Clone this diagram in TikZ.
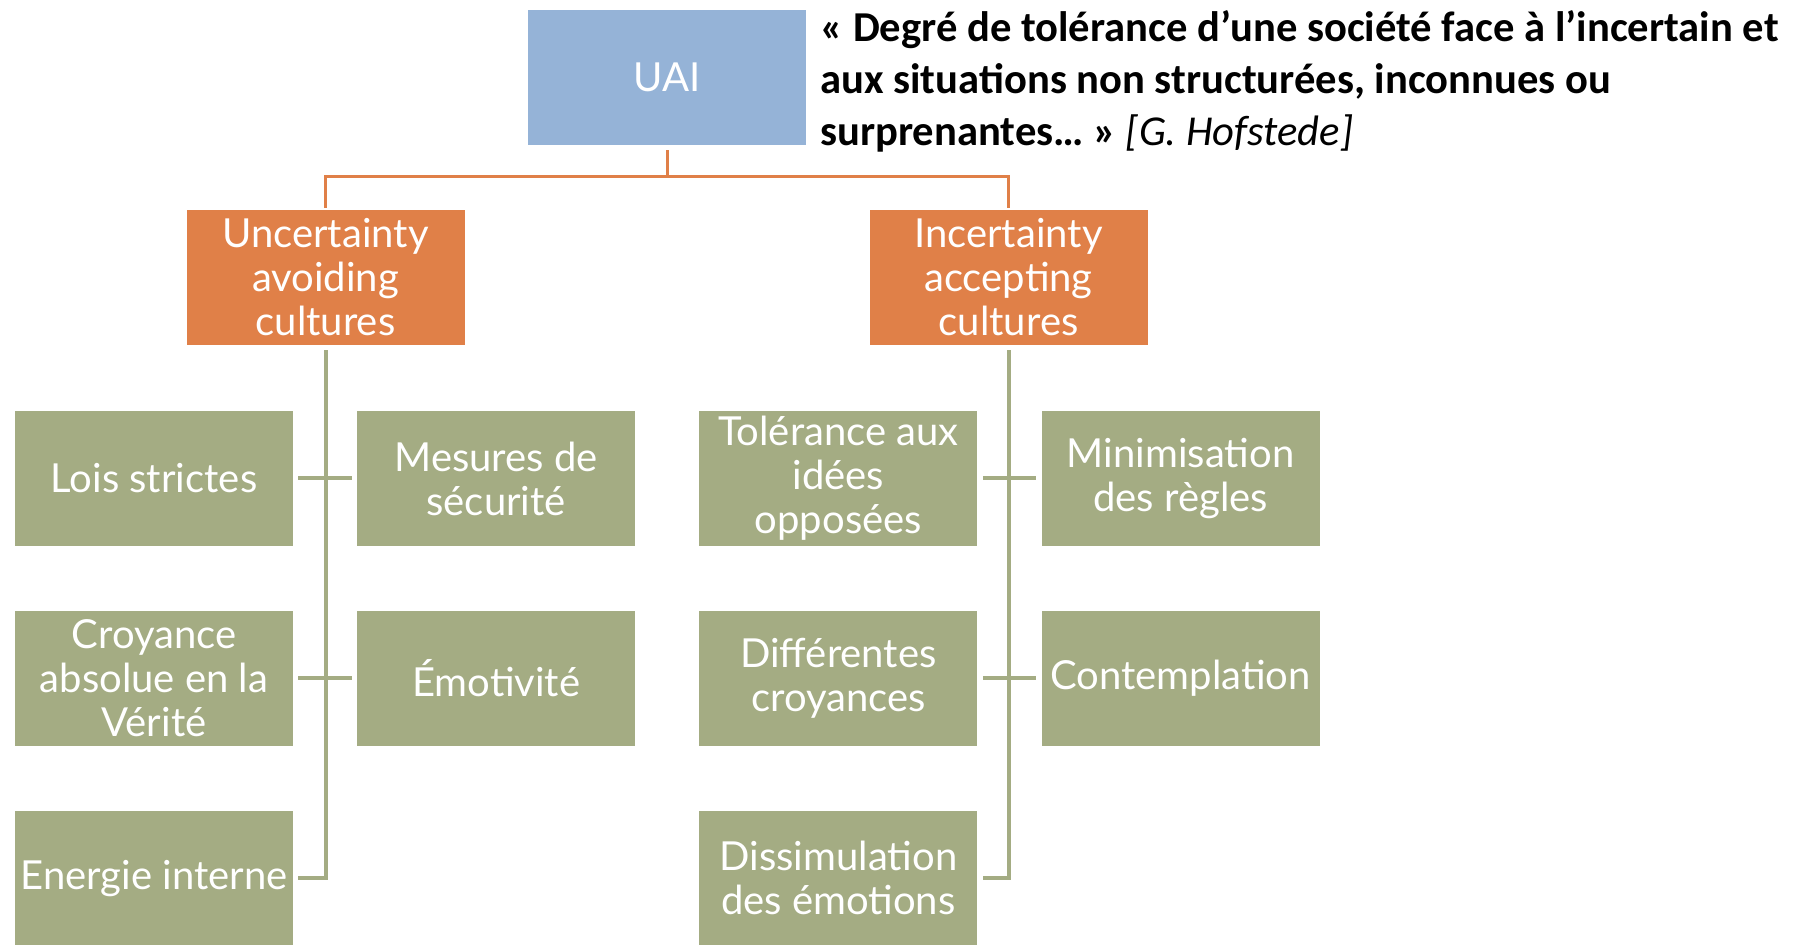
\documentclass[tikz,border=0pt]{standalone}
\usepackage{fontspec}
\setmainfont{Lato}
\newfontfamily\quotefont{Carlito}
\usetikzlibrary{positioning}
\definecolor{uaiblue}{RGB}{149,179,215}
\definecolor{cultorange}{RGB}{224,128,72}
\definecolor{itemgreen}{RGB}{164,172,131}

\begin{document}
\begin{tikzpicture}[x=0.5pt, y=-0.5pt, node distance=32pt and 31.7pt,
    every node/.style={inner sep=0pt, text=white, align=center, font=\fontsize{20}{22}\selectfont},
    box/.style={minimum width=139pt, minimum height=67.5pt},
    topbox/.style={box, fill=uaiblue},
    catbox/.style={box, fill=cultorange},
    itembox/.style={box, fill=itemgreen},
    orangeline/.style={draw=cultorange, line width=1.5pt},
    greenline/.style={draw=itemgreen, line width=2pt}]
    \useasboundingbox (0,0) rectangle (1803,945);

    \node[topbox] (uai) at (667,77.5) {UAI};
    \node[anchor=north west, text=black, align=left, font=\quotefont\bfseries\fontsize{21.3}{26}\selectfont] (quote) at (820,10)
        {« Degré de tolérance d’une société face à l’incertain et\\aux situations non structurées, inconnues ou\\surprenantes… » {\mdseries\itshape [G. Hofstede]}};

    \node[catbox] (avoid) at (325.5,277.5) {Uncertainty\\avoiding\\cultures};
    \node[catbox] (accept) at (1008.5,277.5) {Incertainty\\accepting\\cultures};

    % avoiding side
    \node[itembox] (lois) at (154,478.5) {Lois strictes};
    \node[itembox, right=of lois] (mesures) {Mesures de\\sécurité};
    \node[itembox, below=of lois] (croyance) {Croyance\\absolue en la\\Vérité};
    \node[itembox, right=of croyance] (emotivite) {Émotivité};
    \node[itembox, below=of croyance] (energie) {Energie interne};

    % accepting side
    \node[itembox, right=of mesures] (tolerance) {Tolérance aux\\idées\\opposées};
    \node[itembox, right=of tolerance] (minim) {Minimisation\\des règles};
    \node[itembox, below=of tolerance] (differentes) {Différentes\\croyances};
    \node[itembox, right=of differentes] (contemplation) {Contemplation};
    \node[itembox, below=of differentes] (dissim) {Dissimulation\\des émotions};

    \coordinate (fork) at (667,177);
    \draw[orangeline, shorten <=2.5pt] (uai.south) -- (fork);
    \draw[orangeline, shorten <=1pt, shorten >=1pt] (avoid.north) |- (fork) -| (accept.north);

    \draw[greenline, shorten <=2.5pt, shorten >=2.5pt] (avoid.south) |- (energie.east);
    \draw[greenline, shorten <=2.5pt, shorten >=2.5pt] (accept.south) |- (dissim.east);
    \foreach \l/\r in {lois/mesures, croyance/emotivite, tolerance/minim, differentes/contemplation} {
        \draw[greenline, shorten <=2.5pt, shorten >=2.5pt] (\l.east) -- (\r.west);
    }
\end{tikzpicture}
\end{document}
